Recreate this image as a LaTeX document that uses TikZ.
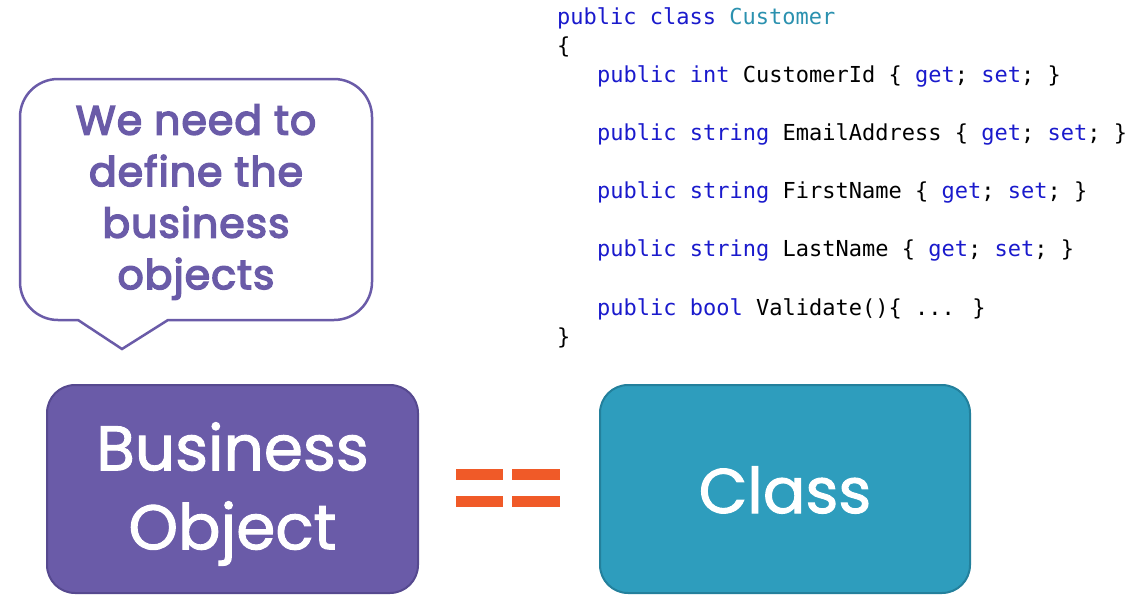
\documentclass[tikz,border=0pt]{standalone}
\usepackage{fontspec}
\setmainfont{Poppins}
\newfontfamily\boxfont[FakeBold=1.6]{Poppins}
\newfontfamily\bubfont[FakeBold=3.6, LetterSpace=2.5]{Poppins}
\newfontfamily\codefont{DejaVu Sans Mono}
\definecolor{bopurple}{HTML}{6A5BA8}
\definecolor{boedge}{HTML}{56498F}
\definecolor{clteal}{HTML}{2E9DBD}
\definecolor{cledge}{HTML}{23809C}
\definecolor{eqorange}{HTML}{F05A28}
\definecolor{kwblue}{HTML}{1A1ACC}
\definecolor{tyteal}{HTML}{2B91AF}
\newcommand{\kw}[1]{\textcolor{kwblue}{#1}}
\tikzset{
  bigbox/.style={rounded corners=28pt, line width=2pt},
  boxtext/.style={text=white, align=center, font=\boxfont\fontsize{63}{79}\selectfont},
  codeline/.style={anchor=base west, inner sep=0pt, font=\codefont\fontsize{22}{24}\selectfont},
  bar/.style={fill=eqorange, draw=none},
  bubbletext/.style={text=bopurple, align=center, font=\bubfont\fontsize{41}{51.5}\selectfont}
}
\begin{document}
\begin{tikzpicture}[x=1pt,y=-1pt]
\useasboundingbox (0,0) rectangle (1143,611);
% speech bubble
\draw[bopurple, line width=2.5pt, fill=white]
  [rounded corners=38pt] (200,79) -- (372,79) -- (372,320) [sharp corners] -- (168,320) -- (122,349) -- (78,320) [rounded corners=38pt] -- (20,320) -- (20,79) -- cycle;
\node[bubbletext] (bubble) at (196,202) {We need to\\define the\\business\\objects};
% boxes
\path[bigbox, fill=bopurple, draw=boedge] (47,385) rectangle (418,593);
\node[boxtext] (bo) at (232.5,494) {Business\\Object};
\path[bigbox, fill=clteal, draw=cledge] (600,385) rectangle (970,593);
\node[boxtext] (cls) at (785,490) {Class};
% equals
\fill[bar] (456,469) rectangle (503,480);
\fill[bar] (512,469) rectangle (560,480);
\fill[bar] (456,496) rectangle (503,507);
\fill[bar] (512,496) rectangle (560,507);
% code
\node[codeline] (c1) at (557,24) {\kw{public class} \textcolor{tyteal}{Customer}};
\node[codeline] (c2) at (557,53) {\{};
\node[codeline] (c3) at (597,82) {\kw{public int} CustomerId \{ \kw{get}; \kw{set}; \}};
\node[codeline] (c4) at (597,140) {\kw{public string} EmailAddress \{ \kw{get}; \kw{set}; \}};
\node[codeline] (c5) at (597,198) {\kw{public string} FirstName \{ \kw{get}; \kw{set}; \}};
\node[codeline] (c6) at (597,256) {\kw{public string} LastName \{ \kw{get}; \kw{set}; \}};
\node[codeline] (c7) at (597,315) {\kw{public bool} Validate()\{ ... \}};
\node[codeline] (c8) at (557,344) {\}};
\end{tikzpicture}
\end{document}
